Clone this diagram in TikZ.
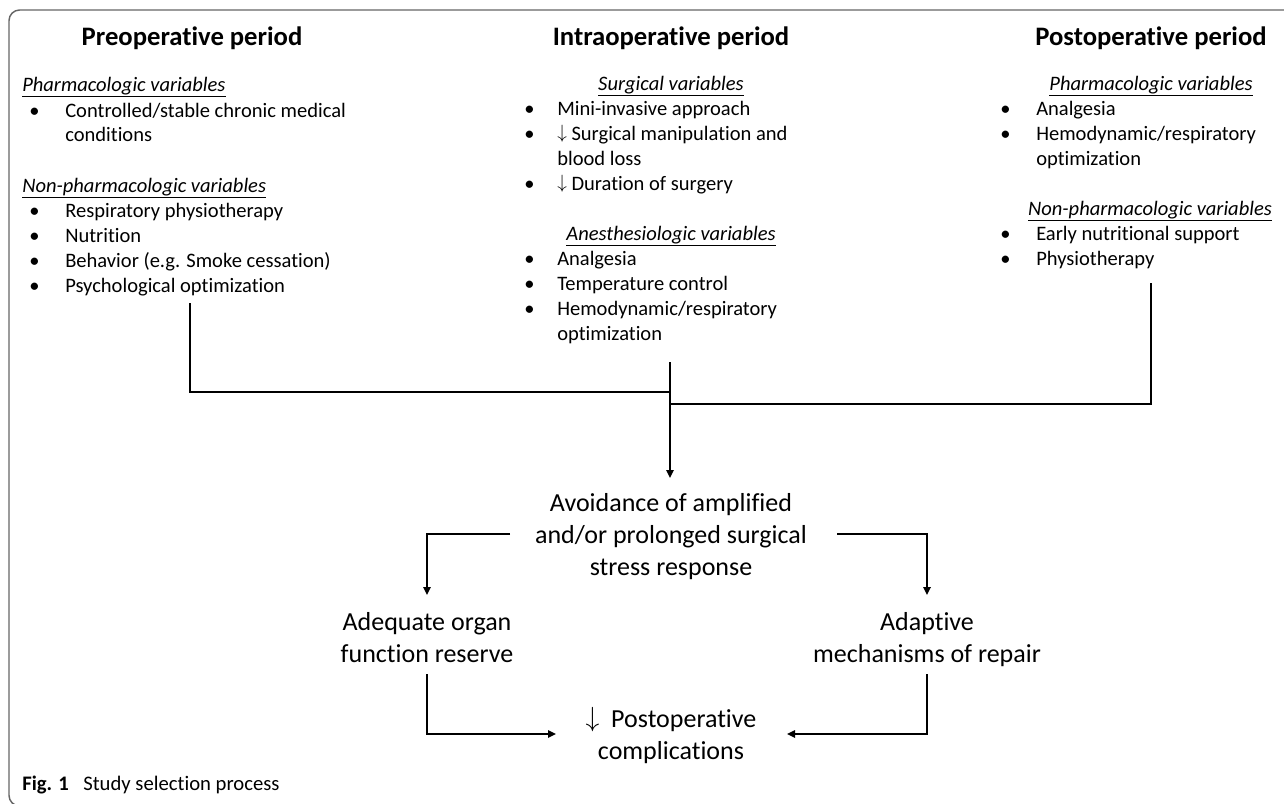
\documentclass[tikz,border=0pt]{standalone}
\usepackage{fontspec}
\setmainfont[Ligatures=NoCommon]{Carlito}
\usetikzlibrary{arrows.meta}
\newcommand{\dnarrow}{\smash{\raisebox{0.05em}{$\downarrow$}}}
\begin{document}
\begin{tikzpicture}[x=0.75pt,y=-0.75pt,
  head/.style={font=\fontsize{20}{23}\selectfont\bfseries, anchor=base, inner sep=0},
  sub/.style={font=\fontsize{15.4}{18}\selectfont\itshape, inner sep=0},
  item/.style={font=\fontsize{15.4}{18}\selectfont, anchor=base west, inner sep=0},
  big/.style={font=\fontsize{19.5}{24}\selectfont, align=center, inner sep=0},
  conn/.style={line width=1.5pt, line join=miter},
  arr/.style={line width=1.5pt, -{Triangle[length=6pt,width=5.5pt]}},
  frame/.style={draw=black!60, line width=1.1pt, rounded corners=8pt}
]
\useasboundingbox (0,0) rectangle (1284,803);
\begin{scope}
\clip (0,0) rectangle (1284,803);
\draw[frame] (1300,10) -- (9,10) -- (9,806) -- (60,806);
\end{scope}

% headings
\node[head] (hpre) at (192,45) {Preoperative period};
\node[head] (hintra) at (671,45) {Intraoperative period};
\node[head] (hpost) at (1151,45) {Postoperative period};

% preoperative column
\node[sub, anchor=base west] (pre1) at (22,91) {\underline{Pharmacologic variables}};
\node[item] (preb1) at (29,117) {•};
\node[item] (pret1) at (65,117) {Controlled/stable chronic medical};
\node[item] (pret1b) at (65,141) {conditions};
\node[sub, anchor=base west] (pre2) at (22,192) {\underline{Non-pharmacologic variables}};
\node[item] (preb2) at (29,217) {•};
\node[item] (pret2) at (65,217) {Respiratory physiotherapy};
\node[item] (preb3) at (29,242) {•};
\node[item] (pret3) at (65,242) {Nutrition};
\node[item] (preb4) at (29,267) {•};
\node[item] (pret4) at (65,267) {Behavior (e.g. Smoke cessation)};
\node[item] (preb5) at (29,292) {•};
\node[item] (pret5) at (65,292) {Psychological optimization};

% intraoperative column
\node[sub, anchor=base] (in1) at (671,90) {\underline{Surgical variables}};
\node[item] (inb1) at (524,115) {•};
\node[item] (int1) at (557,115) {Mini-invasive approach};
\node[item] (inb2) at (524,140) {•};
\node[item] (int2) at (557,140) {\dnarrow\ Surgical manipulation and};
\node[item] (int2b) at (557,165) {blood loss};
\node[item] (inb3) at (524,190) {•};
\node[item] (int3) at (557,190) {\dnarrow\ Duration of surgery};
\node[sub, anchor=base] (in2) at (671,240) {\underline{Anesthesiologic variables}};
\node[item] (inb4) at (524,265) {•};
\node[item] (int4) at (557,265) {Analgesia};
\node[item] (inb5) at (524,290) {•};
\node[item] (int5) at (557,290) {Temperature control};
\node[item] (inb6) at (524,315) {•};
\node[item] (int6) at (557,315) {Hemodynamic/respiratory};
\node[item] (int6b) at (557,340) {optimization};

% postoperative column
\node[sub, anchor=base] (po1) at (1151,90) {\underline{Pharmacologic variables}};
\node[item] (pob1) at (1000,115) {•};
\node[item] (pot1) at (1036,115) {Analgesia};
\node[item] (pob2) at (1000,140) {•};
\node[item] (pot2) at (1036,140) {Hemodynamic/respiratory};
\node[item] (pot2b) at (1036,165) {optimization};
\node[sub, anchor=base] (po2) at (1150,215) {\underline{Non-pharmacologic variables}};
\node[item] (pob3) at (1000,240) {•};
\node[item] (pot3) at (1036,240) {Early nutritional support};
\node[item] (pob4) at (1000,265) {•};
\node[item] (pot4) at (1036,265) {Physiotherapy};

% lower flow
\node[big] (avoid) at (671,537) {Avoidance of amplified\strut\\and/or prolonged surgical\strut\\stress response\strut};
\node[big] (organ) at (427,640) {Adequate organ\strut\\function reserve\strut};
\node[big] (repair) at (927,640) {Adaptive\strut\\mechanisms of repair\strut};
\node[big] (compl) at (671,737) {\dnarrow\ \ Postoperative\strut\\complications\strut};

% caption
\node[anchor=base west, inner sep=0, font=\fontsize{15.5}{17}\selectfont] (cap) at (22,790) {\textbf{Fig. 1}\hspace{0.7em}Study selection process};

% connectors
\coordinate (jl) at (190,303);
\coordinate (jr) at (1151,283);
\coordinate (jm) at (670,362);
\draw[conn] (jl) |- (670,392);
\draw[conn] (jr) |- (670,404);
\draw[arr] (jm) -- (670,478);
\draw[arr] (510,534) -| (organ.north |- 0,595);
\draw[arr] (837,534) -| (repair.north |- 0,595);
\draw[arr] (427,674) |- (556,734);
\draw[arr] (927,674) |- (787,734);
\end{tikzpicture}
\end{document}
